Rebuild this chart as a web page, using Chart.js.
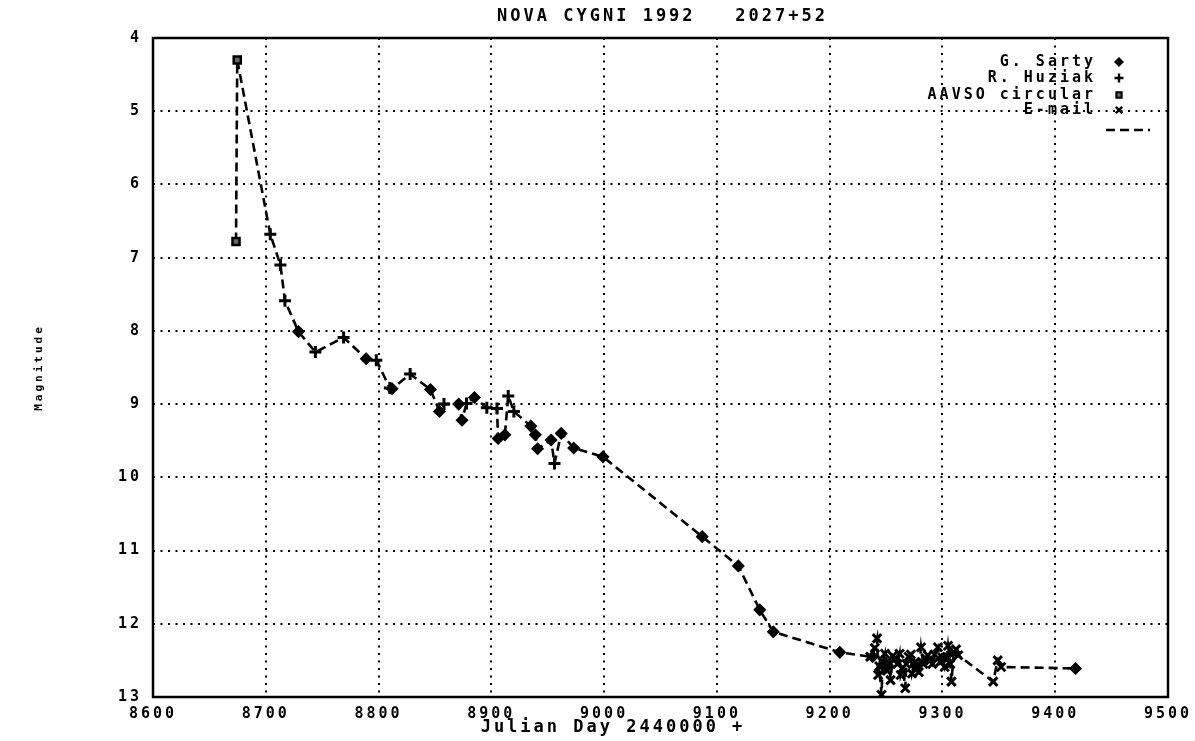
<!DOCTYPE html>
<html>
<head>
<meta charset="utf-8">
<script src="https://cdn.jsdelivr.net/npm/chart.js@4.4.0/dist/chart.umd.min.js"></script>
<style>
html,body{margin:0;padding:0;background:#fff;}
#wrap{width:1195px;height:741px;position:relative;}
canvas{display:block;}
</style>
</head>
<body>
<div id="wrap"><canvas id="c" width="1195" height="741"></canvas></div>
<script>
// ---- text ----
const titleText = 'NOVA CYGNI 1992   2027+52';
const xTitleText = 'Julian Day 2440000 +';
const yTitleText = 'Magnitude';

// ---- tick labels ----
const xTickValues = [8600, 8700, 8800, 8900, 9000, 9100, 9200, 9300, 9400, 9500];
const yTickValues = [4, 5, 6, 7, 8, 9, 10, 11, 12, 13];

// ---- series: G. Sarty (diamonds) ----
const sartyJD  = [8729, 8789, 8812, 8846, 8854, 8871, 8874, 8885, 8906, 8912, 8935, 8939, 8941, 8953, 8962, 8973, 8999, 9087, 9119, 9138, 9150, 9209, 9238, 9418];
const sartyMag = [8.01, 8.38, 8.79, 8.80, 9.10, 9.00, 9.22, 8.91, 9.47, 9.42, 9.30, 9.42, 9.61, 9.49, 9.40, 9.60, 9.72, 10.81, 11.21, 11.81, 12.11, 12.39, 12.45, 12.61];

// ---- series: R. Huziak (plus) ----
const huziakJD  = [8704, 8713, 8717, 8744, 8769, 8798, 8810, 8828, 8858, 8878, 8896, 8905, 8915, 8920, 8956];
const huziakMag = [6.68, 7.10, 7.59, 8.29, 8.09, 8.40, 8.78, 8.59, 9.00, 8.99, 9.05, 9.06, 8.89, 9.10, 9.81];

// ---- series: AAVSO circular (squares) ----
const aavsoJD  = [8673.6, 8674.7];
const aavsoMag = [6.78, 4.30];

// ---- series: E-mail (x) ----
const emailJD  = [9236, 9240, 9242, 9243, 9244, 9246, 9247, 9249, 9250, 9251, 9253, 9254, 9256, 9258, 9260, 9262, 9263, 9265, 9267, 9268, 9270, 9272, 9273, 9276, 9277, 9279, 9281, 9283, 9285, 9287, 9289, 9291, 9293, 9296, 9298, 9300, 9302, 9304, 9305, 9307, 9308, 9310, 9312, 9314, 9345, 9349, 9352];
const emailMag = [12.45, 12.33, 12.20, 12.70, 12.58, 12.97, 12.52, 12.41, 12.62, 12.64, 12.54, 12.77, 12.44, 12.48, 12.55, 12.41, 12.70, 12.60, 12.88, 12.55, 12.45, 12.42, 12.68, 12.52, 12.58, 12.66, 12.32, 12.55, 12.47, 12.43, 12.50, 12.55, 12.42, 12.32, 12.52, 12.46, 12.59, 12.45, 12.30, 12.55, 12.79, 12.40, 12.35, 12.43, 12.79, 12.50, 12.59];

const FONT = '"DejaVu Sans Mono", "Liberation Mono", monospace';
const SPACING = '3px';

function pts(xs, ys) { return xs.map((x, i) => ({ x: x, y: ys[i] })); }

const allPoints = []
  .concat(pts(aavsoJD, aavsoMag), pts(huziakJD, huziakMag), pts(sartyJD, sartyMag), pts(emailJD, emailMag))
  .map((p, i) => ({ p: p, i: i }))
  .sort((a, b) => (a.p.x - b.p.x) || (a.i - b.i))
  .map(o => o.p);

const markerSets = [
  { label: 'G. Sarty',       data: pts(sartyJD, sartyMag),   pointStyle: 'rectRot',  pointRadius: 5.5, pointBorderWidth: 1.5, pointBackgroundColor: '#000', pointBorderColor: '#000' },
  { label: 'R. Huziak',      data: pts(huziakJD, huziakMag), pointStyle: 'cross',    pointRadius: 6,   pointBorderWidth: 3,   pointBackgroundColor: '#000', pointBorderColor: '#000' },
  { label: 'AAVSO circular', data: pts(aavsoJD, aavsoMag),   pointStyle: 'rect',     pointRadius: 5,   pointBorderWidth: 2.5, pointBackgroundColor: '#666', pointBorderColor: '#000' },
  { label: 'E-mail',         data: pts(emailJD, emailMag),   pointStyle: 'crossRot', pointRadius: 6,   pointBorderWidth: 3,   pointBackgroundColor: '#000', pointBorderColor: '#000' }
];

const datasets = markerSets.map(s => Object.assign({ showLine: false, order: 1, pointHoverRadius: s.pointRadius }, s));
datasets.push({
  type: 'line', label: '', data: allPoints, showLine: true, pointRadius: 0, pointHoverRadius: 0,
  borderColor: '#000', borderWidth: 2.6, borderDash: [9, 5], fill: false, tension: 0, order: 10, isLegendLine: true
});

const legendX = 1096, legendMarkX = 1119, legendRows = [62, 78, 95, 110], legendDashY = 130;

const framePlugin = {
  id: 'frameAndLegend',
  beforeUpdate(chart) { chart.ctx.letterSpacing = SPACING; },
  beforeDraw(chart) {
    chart.ctx.letterSpacing = SPACING;
    const ctx = chart.ctx;
    ctx.save(); ctx.fillStyle = '#fff'; ctx.fillRect(0, 0, chart.width, chart.height); ctx.restore();
  },
  afterDraw(chart) {
    const ctx = chart.ctx, a = chart.chartArea;
    ctx.save();
    ctx.setLineDash([]);
    ctx.strokeStyle = '#000';
    ctx.lineWidth = 2.5;
    ctx.strokeRect(a.left, a.top, a.right - a.left, a.bottom - a.top);
    ctx.fillStyle = '#000';
    ctx.textBaseline = 'middle';
    ctx.textAlign = 'center';
    // chart title, centred over the plot
    ctx.font = 'bold 17px ' + FONT;
    ctx.fillText(titleText, (a.left + a.right) / 2 + 2, 17);
    // x axis title
    ctx.font = 'bold 17px ' + FONT;
    ctx.fillText(xTitleText, 613, 728);
    // legend
    ctx.font = 'bold 15px ' + FONT;
    ctx.textAlign = 'right';
    let r = 0;
    chart.data.datasets.forEach(ds => {
      if (ds.isLegendLine) return;
      const y = legendRows[r++];
      ctx.fillStyle = '#000';
      ctx.fillText(ds.label, legendX, y);
      ctx.fillStyle = ds.pointBackgroundColor;
      ctx.strokeStyle = ds.pointBorderColor;
      ctx.lineWidth = ds.pointBorderWidth * 0.8;
      Chart.helpers.drawPoint(ctx, { pointStyle: ds.pointStyle, radius: ds.pointRadius * 0.75, borderWidth: ds.pointBorderWidth * 0.8, rotation: 0 }, legendMarkX, y);
    });
    const line = chart.data.datasets.find(d => d.isLegendLine);
    ctx.strokeStyle = line.borderColor;
    ctx.lineWidth = line.borderWidth;
    ctx.setLineDash(line.borderDash);
    ctx.beginPath();
    ctx.moveTo(1106, legendDashY);
    ctx.lineTo(1150, legendDashY);
    ctx.stroke();
    ctx.restore();
  }
};

new Chart(document.getElementById('c'), {
  type: 'scatter',
  data: { datasets: datasets },
  plugins: [framePlugin],
  options: {
    responsive: false,
    animation: false,
    events: [],
    layout: { padding: { top: 38, right: 27, bottom: 0, left: 0 } },
    plugins: {
      legend: { display: false },
      tooltip: { enabled: false },
      title: { display: false }
    },
    scales: {
      x: {
        type: 'linear', min: 8600, max: 9500,
        afterBuildTicks: s => { s.ticks = xTickValues.map(v => ({ value: v })); },
        afterFit: s => { s.height = 44; s.paddingLeft = 0; s.paddingRight = 0; },
        ticks: { color: '#000', padding: 8, font: { family: FONT, size: 15, weight: 'bold' }, maxRotation: 0, autoSkip: false, callback: v => String(v) },
        grid: { color: '#000', lineWidth: 2, drawTicks: false },
        border: { display: false, dash: [2, 5.5] },
        title: { display: false, text: xTitleText }
      },
      y: {
        type: 'linear', min: 4, max: 13, reverse: true,
        afterBuildTicks: s => { s.ticks = yTickValues.map(v => ({ value: v })); },
        afterFit: s => { s.width = 153; s.paddingTop = 0; s.paddingBottom = 0; },
        ticks: { color: '#000', padding: 11, font: { family: FONT, size: 15, weight: 'bold' }, autoSkip: false, callback: v => String(v) },
        grid: { color: '#000', lineWidth: 2, drawTicks: false },
        border: { display: false, dash: [2, 5.5] },
        title: { display: true, text: yTitleText, color: '#000', font: { family: FONT, size: 11, weight: 'bold' }, padding: { top: 33, bottom: 0 } }
      }
    }
  }
});
</script>
</body>
</html>
